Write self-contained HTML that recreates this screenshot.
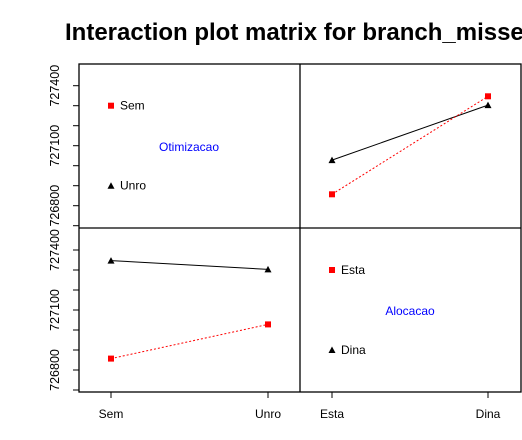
<!DOCTYPE html>
<html><head><meta charset="utf-8"><style>
html,body{margin:0;padding:0;background:#fff;overflow:hidden}
svg{display:block;font-family:"Liberation Sans",sans-serif}
</style></head><body>
<svg id="c" width="522" height="440" xmlns="http://www.w3.org/2000/svg">
<text x="65" y="40" font-size="24" font-weight="bold">Interaction plot matrix for branch_misses</text>
<g id="g"></g>
</svg>
<script>
const otimLevels = ["Sem","Unro"];
const alocLevels = ["Esta","Dina"];
// cell means [otim][aloc]
const semValues = [726857, 727347];
const unroValues = [727028, 727303];
const yTicks = [726700,726800,726900,727000,727100,727200,727300,727400];
const yTickLabels = [726800,727100,727400];

const NS="http://www.w3.org/2000/svg";
const g=document.getElementById('g');
function mk(t,a,p){const e=document.createElementNS(NS,t);for(const k in a)e.setAttribute(k,a[k]);(p||g).appendChild(e);return e;}
const L=79,R=521,T=64,B=392,MX=300,MY=228;
const yTop=v=>85.7+(727400-v)/5;
const yBot=v=>250+(727400-v)/5;
const xLeft=i=>[111,268][i];
const xRight=i=>[332,488][i];

function sq(x,y,name){const e=mk('rect',{x:x-3,y:y-3,width:6,height:6,fill:'#f00'});}
function tri(x,y,name){const e=mk('polygon',{points:`${x-3.5},${y+3} ${x+3.5},${y+3} ${x},${y-3.5}`,fill:'#000'});}
function line(x1,y1,x2,y2,red,name){const e=mk('line',{x1,y1,x2,y2,stroke:red?'#f00':'#000','stroke-width':1,'stroke-dasharray':red?'2,2':'none'});}
function txt(x,y,s,opt,name){const e=mk('text',Object.assign({x,y,'font-size':12},opt||{}));e.textContent=s;return e;}

const fr=mk('rect',{x:L,y:T,width:R-L,height:B-T,fill:'none',stroke:'#000','stroke-width':1.3});

const v1=mk('line',{x1:MX,y1:T,x2:MX,y2:B,stroke:'#000','stroke-width':1.3});

const h1=mk('line',{x1:L,y1:MY,x2:R,y2:MY,stroke:'#000','stroke-width':1.3});


yTicks.forEach(v=>{
  [yTop,yBot].forEach((f,pi)=>{const y=f(v);if(y<T||y>B)return;if(pi===0&&y>MY)return;if(pi===1&&y<MY)return;
    const t=mk('line',{x1:L-6,y1:y,x2:L,y2:y,stroke:'#000'});});
});
yTickLabels.forEach(v=>{
  [yTop,yBot].forEach(f=>{const y=f(v);txt(0,0,String(v),{'text-anchor':'middle','font-size':12.5,transform:`translate(59,${y}) rotate(-90)`},'y-tick-label');});
});

otimLevels.forEach((s,i)=>{const t=mk('line',{x1:xLeft(i),y1:B,x2:xLeft(i),y2:B+6,stroke:'#000'});
  txt(xLeft(i),418,s,{'text-anchor':'middle'},'x-tick-label');});
alocLevels.forEach((s,i)=>{const t=mk('line',{x1:xRight(i),y1:B,x2:xRight(i),y2:B+6,stroke:'#000'});
  txt(xRight(i),418,s,{'text-anchor':'middle'},'x-tick-label');});

sq(111,yTop(727300),'legend-sem-marker');txt(120,yTop(727300)+4,'Sem',{},'legend-sem-label');
tri(111,yTop(726900),'legend-unro-marker');txt(120,yTop(726900)+4,'Unro',{},'legend-unro-label');
txt(189,151,'Otimizacao',{'text-anchor':'middle',fill:'#00f'},'factor-label-otimizacao');

line(xRight(0),yTop(unroValues[0]),xRight(1),yTop(unroValues[1]),false,'line-unro');
line(xRight(0),yTop(semValues[0]),xRight(1),yTop(semValues[1]),true,'line-sem');
alocLevels.forEach((s,i)=>{tri(xRight(i),yTop(unroValues[i]),'point-unro-'+s.toLowerCase());sq(xRight(i),yTop(semValues[i]),'point-sem-'+s.toLowerCase());});

const estaVals=[semValues[0],unroValues[0]], dinaVals=[semValues[1],unroValues[1]];
line(xLeft(0),yBot(dinaVals[0]),xLeft(1),yBot(dinaVals[1]),false,'line-dina');
line(xLeft(0),yBot(estaVals[0]),xLeft(1),yBot(estaVals[1]),true,'line-esta');
otimLevels.forEach((s,i)=>{tri(xLeft(i),yBot(dinaVals[i]),'point-dina-'+s.toLowerCase());sq(xLeft(i),yBot(estaVals[i]),'point-esta-'+s.toLowerCase());});

sq(332,yBot(727300),'legend-esta-marker');txt(341,yBot(727300)+4,'Esta',{},'legend-esta-label');
tri(332,yBot(726900),'legend-dina-marker');txt(341,yBot(726900)+4,'Dina',{},'legend-dina-label');
txt(410,315,'Alocacao',{'text-anchor':'middle',fill:'#00f'},'factor-label-alocacao');
</script>
</body></html>
